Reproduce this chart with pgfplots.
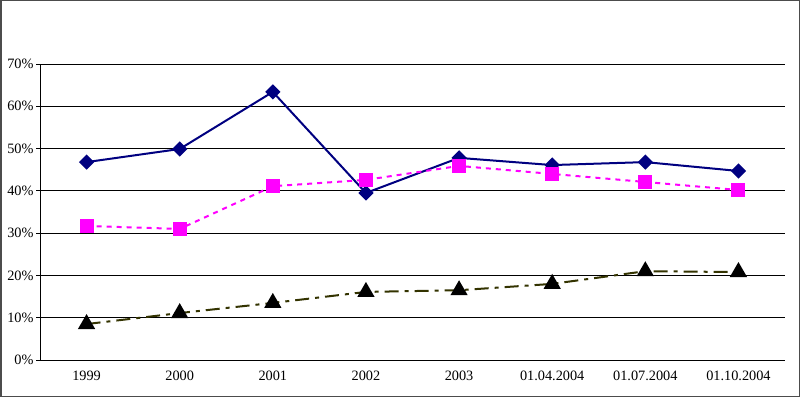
\documentclass[border=0pt]{standalone}
\usepackage{pgfplots}
\pgfplotsset{compat=1.18}
\usepackage{fontspec}
\setmainfont{Liberation Serif}
\definecolor{navyline}{RGB}{0,0,128}
\definecolor{magline}{RGB}{255,0,255}
\definecolor{oliveline}{RGB}{51,51,0}
\begin{document}
\begin{tikzpicture}[x=1pt,y=1pt]
\draw[draw=black!70,line width=1.5pt] (0.75,0.75) rectangle (799.25,396.25);
\begin{axis}[
  at={(40pt,37pt)}, anchor=south west,
  scale only axis, width=745pt, height=296pt,
  xmin=-0.5, xmax=7.5, ymin=0, ymax=70,
  axis lines*=left,
  axis line style={black,line width=1pt},
  xtick={0,...,7},
  xticklabels={1999,2000,2001,2002,2003,01.04.2004,01.07.2004,01.10.2004},
  minor xtick={-0.5,0.5,...,7.5},
  ytick={0,10,...,70},
  yticklabel={\pgfmathprintnumber{\tick}\%},
  /pgf/number format/assume math mode=true,
  ymajorgrids, grid style={black,line width=0.8pt},
  tick align=outside,
  major tick length=4pt, minor tick length=5pt,
  xtick style={draw=none},
  minor tick style={black,line width=1pt,draw=black},
  ytick style={black,line width=1pt},
  tick label style={font=\fontsize{14.3}{16}\selectfont},
  xticklabel style={yshift=-3pt},
  yticklabel style={xshift=1pt},
  clip=false,
]
\addplot[navyline, line width=2pt, mark=square*, mark size=4.4pt, mark options={solid,fill=navyline,rotate=45}]
 coordinates {(0,46.8) (1,49.9) (2,63.4) (3,39.5) (4,47.8) (5,46.1) (6,46.8) (7,44.7)};
\addplot[magline, line width=2pt, dash pattern=on 5pt off 5pt, mark=square*, mark size=6pt, mark options={solid,fill=magline}]
 coordinates {(0,31.7) (1,31.0) (2,41.1) (3,42.6) (4,45.9) (5,44.0) (6,42.1) (7,40.2)};
\addplot[oliveline, line width=2pt, dash pattern=on 14pt off 6pt on 4pt off 6pt, mark=triangle*, mark size=8pt, mark options={solid,fill=black,draw=black}]
 coordinates {(0,8.5) (1,11.1) (2,13.5) (3,16.1) (4,16.5) (5,18.0) (6,21.0) (7,20.8)};
\end{axis}
\end{tikzpicture}
\end{document}
